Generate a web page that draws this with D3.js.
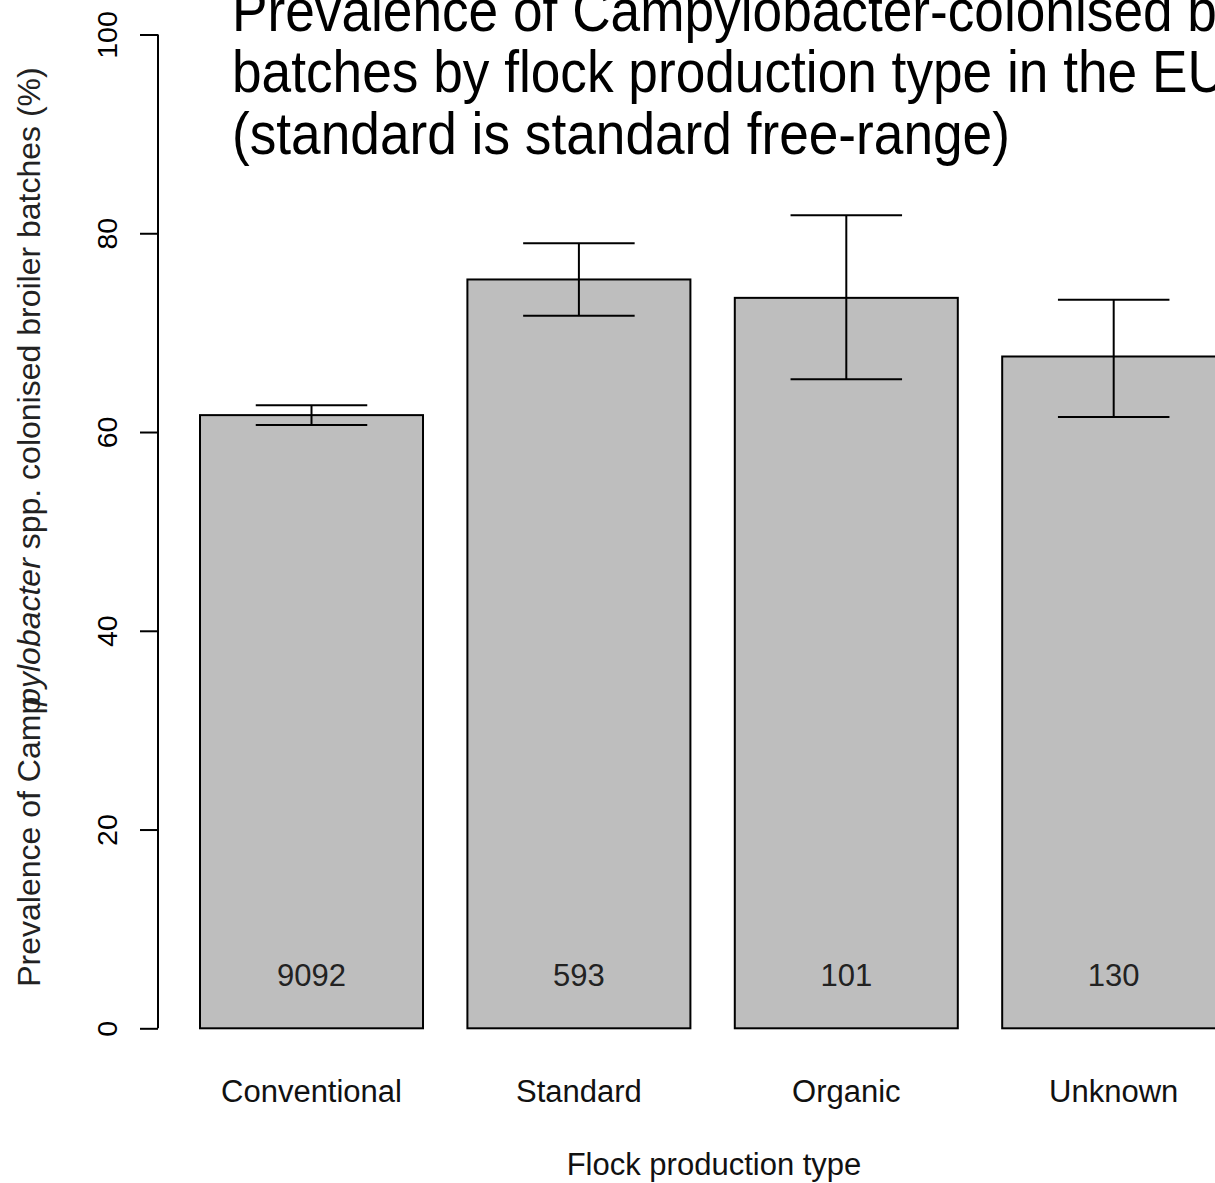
<!DOCTYPE html>
<html>
<head>
<meta charset="utf-8">
<script src="https://cdn.jsdelivr.net/npm/d3@7"></script>
<style>
  html, body { margin: 0; padding: 0; background: #fff; }
  svg { display: block; font-family: "Liberation Sans", Arial, sans-serif; }
</style>
</head>
<body>
<div id="c"></div>
<script>
"use strict";

// chart data
const categories = ["Conventional", "Standard", "Organic", "Unknown"]
const prevalence = [61.7, 75.35, 73.5, 67.6]
const lowerCI = [60.7, 71.7, 65.3, 61.5]
const upperCI = [62.7, 79.0, 81.8, 73.3]
const sampleSize = ["9092", "593", "101", "130"]
const yTicks = [0, 20, 40, 60, 80, 100]
const titleLines = [
    "Prevalence of Campylobacter-colonised broiler",
    "batches by flock production type in the EU",
    "(standard is standard free-range)"
]

const width = 1215, height = 1183

let svg, xScale, yScale

window.onload = function() {
    createChart()
}

function createChart() {
    svg = d3.select('#c').append('svg')
        .attr('width', width)
        .attr('height', height)

    xScale = d3.scaleBand()
        .domain(categories)
        .range([200, 1225.2])
        .paddingInner(0.166)
        .paddingOuter(0)
    yScale = d3.scaleLinear()
        .domain([0, 100])
        .range([1028.3, 34.5])

    // y axis, R style with rotated labels
    let yAxis = svg.append('g')
        .attr('transform', 'translate(158,0)')
        .call(d3.axisLeft(yScale).tickValues(yTicks).tickSize(18).tickPadding(0).tickFormat(d3.format('d')))
    yAxis.select('.domain')
        .attr('d', 'M0,' + yScale(0) + 'V' + yScale(100))
        .attr('stroke', '#000').attr('stroke-width', 2)
    yAxis.selectAll('.tick line').attr('stroke', '#000').attr('stroke-width', 2)
    yAxis.selectAll('.tick text')
        .attr('x', null).attr('dy', null)
        .attr('transform', 'translate(-41,0) rotate(-90)')
        .attr('text-anchor', 'middle')
        .attr('fill', '#000')
        .style('font-size', '28.5px')
        .style('font-family', '"Liberation Sans", Arial, sans-serif')

    let bars = svg.append('g')
    categories.forEach((cat, i) => {
        bars.append('rect')
            .attr('x', xScale(cat))
            .attr('y', yScale(prevalence[i]))
            .attr('width', xScale.bandwidth())
            .attr('height', yScale(0) - yScale(prevalence[i]))
            .attr('fill', '#bebebe')
            .attr('stroke', '#000')
            .attr('stroke-width', 2)
    })

    // error bars
    let errs = svg.append('g').attr('stroke', '#000').attr('stroke-width', 2)
    categories.forEach((cat, i) => {
        let cx = xScale(cat) + xScale.bandwidth() / 2
        let hw = xScale.bandwidth() / 4
        errs.append('line')
            .attr('x1', cx).attr('x2', cx)
            .attr('y1', yScale(lowerCI[i])).attr('y2', yScale(upperCI[i]))
        errs.append('line')
            .attr('x1', cx - hw).attr('x2', cx + hw)
            .attr('y1', yScale(upperCI[i])).attr('y2', yScale(upperCI[i]))
        errs.append('line')
            .attr('x1', cx - hw).attr('x2', cx + hw)
            .attr('y1', yScale(lowerCI[i])).attr('y2', yScale(lowerCI[i]))
    })

    // n labels and category names
    categories.forEach((cat, i) => {
        let cx = xScale(cat) + xScale.bandwidth() / 2
        svg.append('text')
            .attr('x', cx).attr('y', 986)
            .attr('text-anchor', 'middle')
            .style('font-size', '31px')
            .attr('fill', '#222')
            .text(sampleSize[i])
        svg.append('text')
            .attr('x', cx).attr('y', 1102)
            .attr('text-anchor', 'middle')
            .style('font-size', '31px')
            .attr('fill', '#111')
            .text(cat)
    })

    svg.append('text')
        .attr('x', 714).attr('y', 1175)
        .attr('text-anchor', 'middle')
        .style('font-size', '31px')
        .attr('fill', '#111')
        .text('Flock production type')

    // y axis title, with the overlapping italic bit of the original
    let yl = svg.append('text')
        .attr('transform', 'translate(40,527) rotate(-90)')
        .attr('text-anchor', 'middle')
        .style('font-size', '32px')
        .attr('fill', '#222')
    yl.append('tspan').text('Prevalence of Camp')
    yl.append('tspan').attr('dx', -9).style('font-style', 'italic').text('pylobacter')
    yl.append('tspan').text(' spp. colonised broiler batches (%)')

    // title, slightly condensed
    let tg = svg.append('g').attr('transform', 'translate(232,0) scale(0.887,1)')
    titleLines.forEach((line, i) => {
        tg.append('text')
            .attr('x', 0).attr('y', 31 + i * 61.5)
            .style('font-size', '60px')
            .attr('fill', '#000')
            .text(line)
    })
}
</script>
</body>
</html>
